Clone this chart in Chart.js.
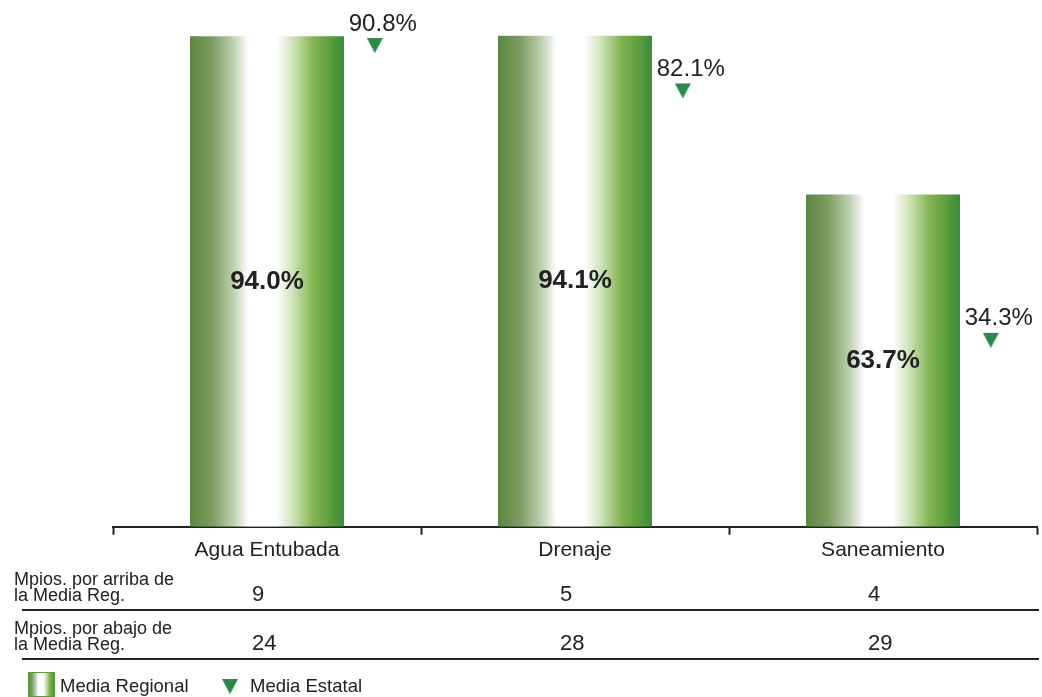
<!DOCTYPE html>
<html>
<head>
<meta charset="utf-8">
<script src="https://cdn.jsdelivr.net/npm/chart.js@4/dist/chart.umd.min.js"></script>
<style>
  html, body { margin: 0; padding: 0; background: #ffffff; }
  #wrap { width: 1042px; height: 697px; position: relative; }
</style>
</head>
<body>
<div id="wrap"><canvas id="chart"></canvas></div>
<script>
const categories = ['Agua Entubada', 'Drenaje', 'Saneamiento'];
const mediaRegional = [94.0, 94.1, 63.7];
const mediaEstatal = [90.8, 82.1, 34.3];
const arribaMedia = [9, 5, 4];
const abajoMedia = [24, 28, 29];
const rowLabels = [['Mpios. por arriba de', 'la Media Reg.'], ['Mpios. por abajo de', 'la Media Reg.']];
const estatalShift = 0.35; // triangulo a la derecha de cada barra

const FONT = "'Liberation Sans', Arial, sans-serif";
const TEXT = '#222';
const TRI = '#2b8a4a';

// degradado verde-blanco-verde de las barras
function barGradient(ctx, left, right) {
    const g = ctx.createLinearGradient(left, 0, right, 0);
    g.addColorStop(0, '#5a883f');
    g.addColorStop(0.14, '#7b9b60');
    g.addColorStop(0.28, '#bccfae');
    g.addColorStop(0.38, '#ffffff');
    g.addColorStop(0.56, '#ffffff');
    g.addColorStop(0.66, '#d3e6bf');
    g.addColorStop(0.8, '#82b451');
    g.addColorStop(0.92, '#5a9c3c');
    g.addColorStop(1, '#3a8a3e');
    return g;
}

// triangulo con la punta en el centro de la imagen (la punta marca el valor)
const tri = document.createElement('canvas');
tri.width = 16; tri.height = 32;
(function () {
    const t = tri.getContext('2d');
    t.fillStyle = TRI;
    t.beginPath();
    t.moveTo(0, 1); t.lineTo(16, 1); t.lineTo(8, 16); t.closePath();
    t.fill();
})();

const extras = {
    id: 'extras',
    afterDatasetsDraw(chart) {
        const ctx = chart.ctx;
        const x = chart.scales.x;
        ctx.save();
        ctx.fillStyle = TEXT;
        ctx.textBaseline = 'middle';

        // etiquetas dentro de las barras
        ctx.textAlign = 'center';
        ctx.font = 'bold 26px ' + FONT;
        chart.getDatasetMeta(0).data.forEach((bar, i) => {
            ctx.fillText(mediaRegional[i].toFixed(1) + '%', bar.x, (bar.y + bar.base) / 2);
        });

        // etiquetas de la media estatal
        ctx.font = '24px ' + FONT;
        chart.getDatasetMeta(1).data.forEach((pt, i) => {
            ctx.fillText(mediaEstatal[i].toFixed(1) + '%', pt.x + 8, pt.y - 29);
        });

        // tabla inferior
        ctx.textAlign = 'left';
        ctx.textBaseline = 'alphabetic';
        const rows = [arribaMedia, abajoMedia];
        const rowBase = [601, 650];
        rows.forEach((vals, r) => {
            ctx.font = '18px ' + FONT;
            ctx.fillText(rowLabels[r][0], 14, rowBase[r] - 16);
            ctx.fillText(rowLabels[r][1], 14, rowBase[r]);
            ctx.font = '22px ' + FONT;
            vals.forEach((v, i) => {
                ctx.fillText(String(v), x.getPixelForValue(i) - 15, rowBase[r]);
            });
            ctx.strokeStyle = TEXT;
            ctx.lineWidth = 2;
            ctx.beginPath();
            ctx.moveTo(22, rowBase[r] + 9);
            ctx.lineTo(x.right + 2, rowBase[r] + 9);
            ctx.stroke();
        });

        // leyenda
        ctx.fillStyle = barGradient(ctx, 28, 55);
        ctx.fillRect(28, 672, 27, 25);
        ctx.strokeStyle = '#5a9c3c';
        ctx.lineWidth = 1;
        ctx.strokeRect(28.5, 672.5, 26, 24);
        ctx.drawImage(tri, 222, 678);
        ctx.fillStyle = TEXT;
        ctx.font = '18.5px ' + FONT;
        ctx.fillText('Media Regional', 60, 692);
        ctx.fillText('Media Estatal', 250, 692);
        ctx.restore();
    }
};

new Chart(document.getElementById('chart'), {
    type: 'bar',
    data: {
        labels: categories,
        datasets: [
            {
                label: 'Media Regional',
                data: mediaRegional,
                grouped: false,
                barPercentage: 0.5,
                categoryPercentage: 1,
                backgroundColor: (c) => {
                    const chart = c.chart;
                    const xs = chart.scales.x;
                    if (!chart.chartArea || !xs || c.dataIndex === undefined) return '#6aa040';
                    const cx = xs.getPixelForValue(c.dataIndex);
                    const w = (xs.width / categories.length) * 0.5;
                    return barGradient(chart.ctx, cx - w / 2, cx + w / 2);
                },
                borderWidth: 0
            },
            {
                type: 'scatter',
                label: 'Media Estatal',
                xAxisID: 'x2',
                data: mediaEstatal.map((v, i) => ({ x: i + estatalShift, y: v })),
                pointStyle: tri,
                showLine: false
            }
        ]
    },
    options: {
        responsive: true,
        maintainAspectRatio: false,
        animation: false,
        layout: { padding: { left: 113, right: 2, top: 4, bottom: 131 } },
        plugins: {
            legend: { display: false },
            tooltip: { enabled: false }
        },
        scales: {
            x: {
                offset: true,
                grid: {
                    offset: true,
                    drawOnChartArea: false,
                    drawTicks: true,
                    tickLength: 8,
                    tickWidth: 2,
                    color: TEXT
                },
                border: { display: true, color: TEXT, width: 2 },
                ticks: { color: TEXT, font: { family: FONT, size: 21 }, padding: 3 }
            },
            x2: {
                type: 'linear',
                display: false,
                offset: false,
                grid: { offset: false },
                min: -0.5,
                max: 2.5
            },
            y: {
                display: false,
                min: 0,
                max: 100
            }
        }
    },
    plugins: [extras]
});
</script>
</body>
</html>
